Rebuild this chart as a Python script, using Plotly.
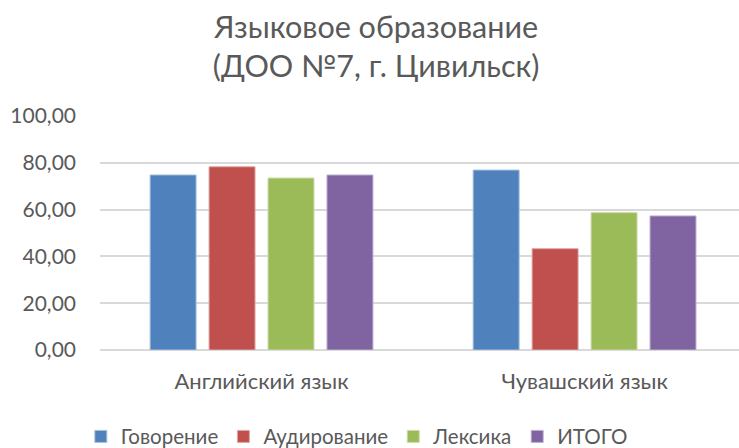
import plotly.graph_objects as go

# Chart data
categories = ["Английский язык", "Чувашский язык"]
series_names = ["Говорение", "Аудирование", "Лексика", "ИТОГО"]
speaking = [74.8, 76.9]
listening = [78.3, 43.3]
vocabulary = [73.5, 58.7]
total = [74.8, 57.3]
y_ticks = [0, 20, 40, 60, 80, 100]
y_tick_labels = ["0,00", "20,00", "40,00", "60,00", "80,00", "100,00"]

colors = ["#4f81bd", "#c0504d", "#9bbb59", "#8064a2"]
edge_colors = ["#a7c0de", "#dfa7a6", "#cddcac", "#bfb1d0"]
text_color = "#595959"
font_family = "Lato, Open Sans, sans-serif"

fig = go.Figure()
for name, vals, c, ec in zip(series_names, [speaking, listening, vocabulary, total], colors, edge_colors):
    fig.add_trace(go.Bar(
        x=categories, y=vals, name=name,
        marker=dict(color=c, line=dict(color=ec, width=1)),
    ))

fig.update_layout(
    width=739, height=448,
    margin=dict(l=100, r=0, t=116, b=98, autoexpand=False),
    paper_bgcolor="white", plot_bgcolor="white",
    barmode="group", bargap=0.27, bargroupgap=0.22,
    font=dict(family=font_family, color=text_color),
    title=dict(
        text="Языковое образование<br>(ДОО №7, г. Цивильск)",
        x=0.509, xanchor="center", xref="container",
        y=0.916, yanchor="middle", yref="container",
        font=dict(size=30.5, color=text_color),
    ),
    showlegend=True,
    legend=dict(
        orientation="h", x=-0.03, xanchor="left",
        y=-0.37, yanchor="middle",
        font=dict(size=20.5, color=text_color),
        itemwidth=30, tracegroupgap=0,
    ),
    xaxis=dict(
        range=[-0.5, 1.478], showgrid=False, showline=False, ticks="",
        tickfont=dict(size=22, color=text_color), ticklabelstandoff=16,
    ),
    yaxis=dict(
        range=[0, 100], tickvals=y_ticks, ticktext=y_tick_labels,
        showgrid=True, gridcolor="#d9d9d9", gridwidth=1.5,
        zeroline=True, zerolinecolor="#d9d9d9", zerolinewidth=1.5,
        showline=False, ticks="",
        tickfont=dict(size=21, color=text_color), ticklabelstandoff=23,
    ),
)

fig.write_html("out.html")
